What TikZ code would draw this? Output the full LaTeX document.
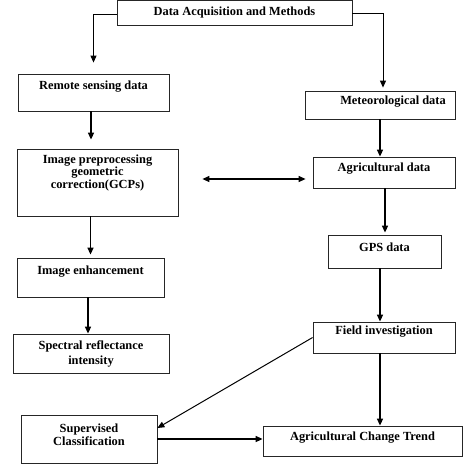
\documentclass[tikz,border=0pt]{standalone}
\usepackage{fontspec}
\setmainfont{Liberation Serif}
\usetikzlibrary{arrows.meta}
\tikzset{
  box/.style={draw=black!85, line width=0.8pt, inner sep=0pt},
  lbl/.style={font=\fontsize{12.4}{12.5}\selectfont\bfseries, align=center, inner sep=0pt},
  arr/.style={-{Triangle[length=7pt,width=6pt]}, line width=1.5pt},
  thinarr/.style={-{Triangle[length=7pt,width=6pt]}, line width=1pt}
}
\begin{document}
\begin{tikzpicture}[x=1pt, y=-1pt]
\useasboundingbox (0,0) rectangle (474,475);

% left column
\node (ttl) at (234.5,12.75) [box, minimum width=235, minimum height=24.5] {};
\node (ttlT) at (ttl.center) [lbl] {Data Acquisition and Methods};
\node (rs) at (93.5,92.5) [box, minimum width=151, minimum height=37] {};
\node (rsT) at ([yshift=6]rs.center) [lbl] {Remote sensing data};
\node (pre) at (97.5,182.5) [box, minimum width=161, minimum height=67] {};
\node (preT) at ([yshift=9.5]pre.center) [lbl] {Image preprocessing\\geometric\\correction(GCPs)};
\node (enh) at (90.5,277.5) [box, minimum width=147, minimum height=39] {};
\node (enhT) at ([yshift=6]enh.center) [lbl] {Image enhancement};
\node (spe) at (91,353.5) [box, minimum width=156, minimum height=39] {};
\node (speT) at (spe.center) [lbl, font=\fontsize{12.4}{15}\selectfont\bfseries] {Spectral reflectance\\intensity};
\node (sup) at (89,439) [box, minimum width=136, minimum height=48] {};
\node (supT) at ([yshift=4.5]sup.center) [lbl, font=\fontsize{12.4}{13}\selectfont\bfseries] {Supervised\\Classification};

% right column
\node (met) at (380,105) [box, minimum width=150, minimum height=28] {};
\node (metT) at ([xshift=13,yshift=3.5]met.center) [lbl] {Meteorological data};
\node (agr) at (384,172.5) [box, minimum width=142, minimum height=31] {};
\node (agrT) at ([yshift=3.5]agr.center) [lbl] {Agricultural data};
\node (gps) at (384.5,251.5) [box, minimum width=113, minimum height=33] {};
\node (gpsT) at ([yshift=4.5]gps.center) [lbl] {GPS data};
\node (fld) at (384,337.5) [box, minimum width=142, minimum height=31] {};
\node (fldT) at ([yshift=5.5]fld.center) [lbl] {Field investigation};
\node (trd) at (362.5,441) [box, minimum width=199, minimum height=30] {};
\node (trdT) at ([yshift=3]trd.center) [lbl] {Agricultural Change Trend};

\draw[thinarr, shorten >=11pt] ([yshift=-1.5]ttl.west) -| (rs.north);
\draw[thinarr, shorten >=3pt] ([yshift=-0.5]ttl.east) -| ([xshift=3]met.north);
\draw[arr, shorten >=9pt] ([xshift=-2.5]rs.south) -- ([xshift=-6.5]pre.north);
\draw[arr] (met.south) -- (met.south |- agr.north);
\draw[{Triangle[length=7pt,width=6pt]}-{Triangle[length=7pt,width=6pt]}, line width=1.2pt, shorten <=24pt, shorten >=7pt]
  ([yshift=3.5]pre.east) -- ([yshift=-6.5]agr.west);
\draw[arr, shorten >=2pt] ([xshift=1]agr.south) -- ([xshift=0.5]gps.north);
\draw[arr, shorten >=3pt] (enh.north |- pre.south) -- (enh.north);
\draw[arr] ([xshift=-2.5]enh.south) -- ([xshift=-3]spe.north);
\draw[arr] ([xshift=-4.5]gps.south) -- ([xshift=-4]fld.north);
\draw[thinarr] (fld.west) -- ([yshift=11]sup.east);
\draw[arr] ([xshift=-4]fld.south) -- ([xshift=-4]fld.south |- trd.north);
\draw[arr] (sup.east) -- (sup.east -| trd.west);
\end{tikzpicture}
\end{document}
